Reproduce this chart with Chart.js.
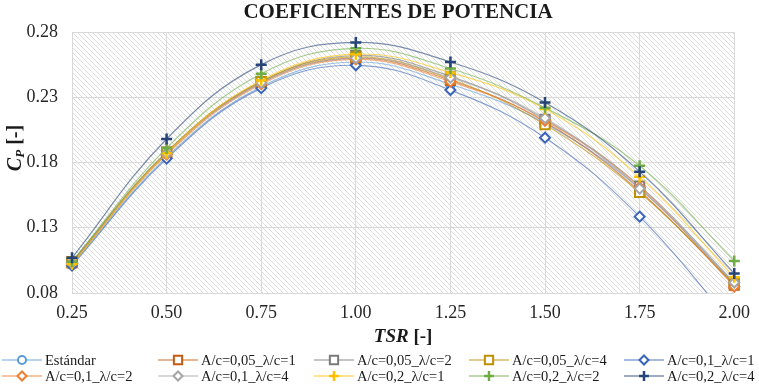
<!DOCTYPE html>
<html>
<head>
<meta charset="utf-8">
<script src="https://cdn.jsdelivr.net/npm/chart.js@4.4.1/dist/chart.umd.min.js"></script>
<style>
    body { margin: 0; background: #fff; }
    #wrap { width: 759px; height: 392px; }
</style>
</head>
<body>
<div id="wrap"><canvas id="cpChart" width="759" height="392"></canvas></div>
<script>
// TSR values (x) and y tick labels
const tsr = [0.25, 0.50, 0.75, 1.00, 1.25, 1.50, 1.75, 2.00];
const yTicks = [0.08, 0.13, 0.18, 0.23, 0.28];

const seriesNames = [
    "Estándar",
    "A/c=0,05_λ/c=1", "A/c=0,05_λ/c=2", "A/c=0,05_λ/c=4",
    "A/c=0,1_λ/c=1", "A/c=0,1_λ/c=2", "A/c=0,1_λ/c=4",
    "A/c=0,2_λ/c=1", "A/c=0,2_λ/c=2", "A/c=0,2_λ/c=4"
];

// Cp values
const estandar  = [0.102, 0.184, 0.238, 0.257, 0.240, 0.210, 0.160, 0.087];
const a005_l1   = [0.103, 0.187, 0.241, 0.260, 0.243, 0.211, 0.158, 0.086];
const a005_l2   = [0.104, 0.188, 0.242, 0.262, 0.246, 0.213, 0.162, 0.088];
const a005_l4   = [0.104, 0.188, 0.242, 0.261, 0.244, 0.209, 0.157, 0.087];
const a01_l1    = [0.101, 0.183, 0.237, 0.2545, 0.2355, 0.199, 0.1385, 0.055];
const a01_l2    = [0.103, 0.186, 0.240, 0.259, 0.242, 0.212, 0.161, 0.085];
const a01_l4    = [0.103, 0.187, 0.241, 0.260, 0.245, 0.214, 0.160, 0.088];
const a02_l1    = [0.102, 0.187, 0.243, 0.263, 0.249, 0.221, 0.169, 0.092];
const a02_l2    = [0.104, 0.191, 0.248, 0.2675, 0.252, 0.222, 0.1775, 0.1045];
const a02_l4    = [0.107, 0.198, 0.255, 0.272, 0.257, 0.226, 0.173, 0.095];

const seriesValues = [estandar, a005_l1, a005_l2, a005_l4, a01_l1, a01_l2, a01_l4, a02_l1, a02_l2, a02_l4];
const seriesColors = ['#5B9BD5', '#C55A11', '#7B7B7B', '#BF9000', '#3A64B8', '#ED7D31', '#A5A5A5', '#FFC000', '#70AD47', '#264478'];
const seriesMarkers = ['circle', 'rect', 'rect', 'rect', 'rectRot', 'rectRot', 'rectRot', 'cross', 'cross', 'cross'];

const serif = "'Liberation Serif', 'Times New Roman', serif";
const markerRadius = { circle: 4.5, rect: 6.5, rectRot: 5, cross: 5.5 };

function fade(hex, a) {
    const n = parseInt(hex.slice(1), 16);
    return `rgba(${(n >> 16) & 255},${(n >> 8) & 255},${n & 255},${a})`;
}

let datasets = seriesNames.map(function (name, i) {
    return {
        label: name,
        data: tsr.map((x, j) => ({ x: x, y: seriesValues[i][j] })),
        borderColor: fade(seriesColors[i], 0.6),
        borderWidth: 1.2,
        tension: 0.4,
        pointStyle: seriesMarkers[i],
        pointRadius: markerRadius[seriesMarkers[i]],
        pointBorderColor: seriesColors[i],
        pointBackgroundColor: '#ffffff',
        pointBorderWidth: seriesMarkers[i] === 'cross' ? 2.5 : 2,
        order: seriesNames.length - i,
        clip: { left: 10, top: 10, right: 10, bottom: i === 4 ? 0 : 10 }
    };
});

// diagonal hatch behind the plot
const hatchPlugin = {
    id: 'hatch',
    beforeDraw(chart) {
        const a = chart.chartArea;
        const ctx = chart.ctx;
        const tile = document.createElement('canvas');
        tile.width = 5;
        tile.height = 5;
        const t = tile.getContext('2d');
        t.strokeStyle = '#dcdcdc';
        t.lineWidth = 1;
        for (let x = -5; x <= 5; x += 5) {
            t.beginPath();
            t.moveTo(x, 0);
            t.lineTo(x + 5, 5);
            t.stroke();
        }
        ctx.save();
        ctx.fillStyle = '#ffffff';
        ctx.fillRect(0, 0, chart.width, chart.height);
        ctx.fillStyle = ctx.createPattern(tile, 'repeat');
        ctx.fillRect(a.left, a.top, a.right - a.left, a.bottom - a.top);
        ctx.restore();
    }
};

// title, axis titles and legend grid
const textPlugin = {
    id: 'texts',
    afterDraw(chart) {
        const ctx = chart.ctx;
        const a = chart.chartArea;
        ctx.save();
        ctx.fillStyle = '#1a1a1a';
        ctx.textBaseline = 'middle';

        ctx.font = `bold 21px ${serif}`;
        ctx.textAlign = 'center';
        ctx.fillText('COEFICIENTES DE POTENCIA', 398, 13);

        // x title: TSR [-]
        ctx.textAlign = 'left';
        ctx.font = `italic bold 19px ${serif}`;
        const w1 = ctx.measureText('TSR').width;
        ctx.font = `bold 19px ${serif}`;
        const w2 = ctx.measureText(' [-]').width;
        let xs = (a.left + a.right) / 2 - (w1 + w2) / 2;
        ctx.font = `italic bold 19px ${serif}`;
        ctx.fillText('TSR', xs, 337);
        ctx.font = `bold 19px ${serif}`;
        ctx.fillText(' [-]', xs + w1, 337);

        // y title: Cp [-]
        ctx.translate(16, 148);
        ctx.rotate(-Math.PI / 2);
        ctx.font = `italic bold 20px ${serif}`;
        const c1 = ctx.measureText('C').width;
        ctx.font = `italic bold 13px ${serif}`;
        const c2 = ctx.measureText('P').width;
        ctx.font = `bold 20px ${serif}`;
        const c3 = ctx.measureText(' [-]').width;
        let ys = -(c1 + c2 + c3) / 2;
        ctx.font = `italic bold 20px ${serif}`;
        ctx.fillText('C', ys, 0);
        ctx.font = `italic bold 13px ${serif}`;
        ctx.fillText('P', ys + c1, 5);
        ctx.font = `bold 20px ${serif}`;
        ctx.fillText(' [-]', ys + c1 + c2, 0);
        ctx.setTransform(1, 0, 0, 1, 0, 0);

        // legend
        const colX = [2, 158, 314, 469, 624];
        const rowY = [360, 376];
        ctx.font = `14.5px ${serif}`;
        chart.data.datasets.forEach(function (ds, i) {
            const x0 = colX[i % 5];
            const y0 = rowY[Math.floor(i / 5)];
            ctx.strokeStyle = ds.borderColor;
            ctx.lineWidth = 1.5;
            ctx.beginPath();
            ctx.moveTo(x0, y0);
            ctx.lineTo(x0 + 40, y0);
            ctx.stroke();
            ctx.strokeStyle = ds.pointBorderColor;
            ctx.fillStyle = '#ffffff';
            ctx.lineWidth = ds.pointBorderWidth;
            Chart.helpers.drawPoint(ctx, {
                pointStyle: ds.pointStyle,
                radius: ds.pointRadius * 0.9,
                borderWidth: ds.pointBorderWidth,
                rotation: 0
            }, x0 + 20, y0);
            ctx.fillStyle = '#1a1a1a';
            ctx.fillText(ds.label, x0 + 43, y0 + 1);
        });
        ctx.restore();
    }
};

document.addEventListener("DOMContentLoaded", function () {
    const ctx = document.getElementById('cpChart').getContext('2d');
    new Chart(ctx, {
        type: 'line',
        data: { datasets: datasets },
        options: {
            responsive: false,
            animation: false,
            layout: { padding: { top: 32, right: 17, left: 0, bottom: 0 } },
            scales: {
                x: {
                    type: 'linear',
                    min: tsr[0],
                    max: tsr[tsr.length - 1],
                    afterBuildTicks: (s) => { s.ticks = tsr.map(v => ({ value: v })); },
                    afterFit: (s) => { s.height = 99; },
                    grid: { color: '#d9d9d9', drawTicks: false },
                    border: { display: false },
                    ticks: {
                        padding: 9,
                        color: '#262626',
                        font: { family: serif, size: 18 },
                        callback: (v) => Number(v).toFixed(2)
                    }
                },
                y: {
                    min: yTicks[0],
                    max: yTicks[yTicks.length - 1],
                    afterBuildTicks: (s) => { s.ticks = yTicks.map(v => ({ value: v })); },
                    afterFit: (s) => { s.width = 72; },
                    grid: { color: '#d9d9d9', drawTicks: false },
                    border: { display: false },
                    ticks: {
                        padding: 14,
                        color: '#262626',
                        font: { family: serif, size: 18 },
                        callback: (v) => Number(v).toFixed(2)
                    }
                }
            },
            plugins: {
                legend: { display: false },
                tooltip: { enabled: false }
            }
        },
        plugins: [hatchPlugin, textPlugin]
    });
});
</script>
</body>
</html>
